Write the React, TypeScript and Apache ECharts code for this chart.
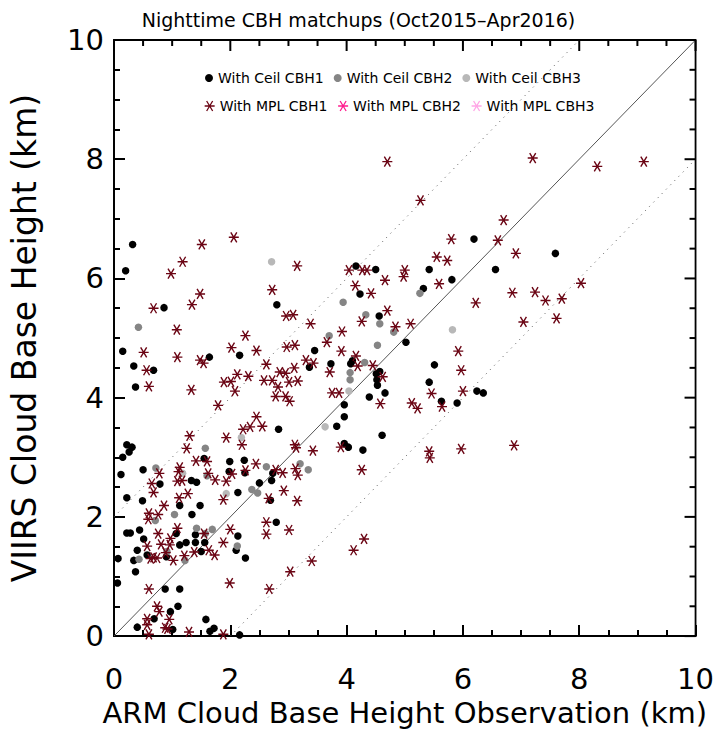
import React, { useEffect, useRef } from "react";
import * as echarts from "echarts";

// ---- data (km) ----
const ceilCBH1: number[][] = [
  [0.32, 6.57], [0.2, 6.13], [0.86, 5.51], [2.8, 5.56], [4.16, 6.21], [4.5, 6.15], [4.23, 5.74], [4.56, 5.37],
  [6.19, 6.66], [7.59, 6.42], [5.42, 6.15], [6.56, 6.15], [5.81, 5.98], [5.32, 5.83], [5.02, 4.93], [5.51, 4.55],
  [5.42, 4.26], [6.24, 4.11], [6.35, 4.08], [5.63, 3.94], [5.9, 3.91], [4.66, 4.08], [4.61, 3.37],
  [0.15, 4.78], [1.64, 4.68], [2.16, 4.71], [3.45, 4.79], [0.34, 4.53], [0.68, 4.46], [0.37, 4.18], [3.36, 4.51],
  [3.73, 4.57], [4.07, 4.57], [4.1, 4.62], [4.51, 4.4], [4.57, 4.44], [4.52, 4.3], [4.53, 4.21], [4.39, 4.01],
  [3.96, 3.88], [3.96, 3.68], [3.83, 3.52], [2.83, 3.47], [0.22, 3.21], [0.31, 3.17], [0.26, 3.09], [0.15, 3.0],
  [0.12, 2.71], [3.96, 3.23], [4.03, 3.17], [4.28, 3.12], [2.73, 2.73], [2.71, 2.61], [2.5, 2.57], [2.69, 2.28],
  [1.55, 2.98], [1.99, 2.93], [2.24, 2.95], [1.98, 2.76], [2.25, 2.74], [1.33, 2.61], [1.42, 2.58], [0.5, 2.79],
  [0.79, 2.55], [2.13, 2.41], [0.22, 2.32], [0.49, 2.27], [1.13, 2.19], [1.48, 2.19], [1.34, 2.04], [2.79, 1.91],
  [0.22, 1.73], [0.28, 1.73], [0.44, 1.78], [0.51, 1.63], [1.07, 1.72], [1.4, 1.7], [1.56, 1.57], [1.4, 1.57],
  [1.24, 1.57], [1.13, 1.53], [0.4, 1.44], [1.5, 1.42], [2.13, 1.68], [2.1, 1.44], [2.26, 1.31], [0.57, 1.36],
  [0.9, 1.33], [0.34, 1.27], [0.07, 1.3], [0.37, 1.08], [0.06, 0.89], [0.88, 0.79], [1.13, 0.79], [1.1, 0.5],
  [0.97, 0.41], [0.69, 0.29], [1.58, 0.28], [0.4, 0.15], [1.01, 0.11], [1.65, 0.08], [1.72, 0.13], [2.16, 0.02],
];

const ceilCBH2: number[][] = [
  [0.42, 5.18], [3.7, 5.04], [3.94, 5.6], [4.33, 5.39], [4.57, 5.24], [4.81, 5.1], [5.26, 5.75], [4.53, 4.88],
  [4.31, 4.59], [4.06, 4.42], [4.06, 4.3], [1.57, 3.15], [3.2, 2.89], [3.34, 2.79], [2.62, 2.84], [2.37, 2.46],
  [2.47, 2.4], [0.72, 2.82], [1.04, 2.04], [0.71, 1.94], [1.42, 1.81], [1.69, 1.79], [2.12, 1.51], [0.43, 1.29],
  [1.22, 1.27], [1.6, 2.69], [1.57, 1.72], [0.91, 1.42],
];

const ceilCBH3: number[][] = [
  [2.71, 6.28], [5.82, 5.14], [4.04, 4.11], [3.63, 3.51], [2.19, 3.33], [1.18, 2.73], [1.93, 2.39],
];

const mplCBH1: number[][] = [
  [0.68, 5.5], [0.98, 6.08], [1.18, 6.28], [1.08, 5.14], [1.34, 5.56], [1.48, 5.74], [1.51, 6.57], [2.06, 6.69],
  [2.26, 5.04], [2.72, 5.81], [3.15, 6.21], [2.96, 5.37], [3.08, 5.39], [3.38, 5.24], [3.92, 5.11], [4.04, 6.14],
  [4.27, 6.14], [4.35, 6.14], [4.15, 5.88], [4.42, 5.75], [4.66, 5.97], [4.7, 7.96], [4.26, 5.28], [4.7, 5.46],
  [4.84, 5.19],
  [7.2, 8.02], [8.31, 7.88], [9.11, 7.96], [5.27, 7.31], [6.7, 6.98], [5.8, 6.66], [6.6, 6.64], [5.55, 6.36],
  [5.73, 6.3], [6.91, 6.42], [5.0, 6.14], [4.98, 6.03], [5.59, 5.91], [6.22, 5.59], [6.85, 5.76], [7.24, 5.77],
  [7.42, 5.63], [7.7, 5.66], [8.03, 5.92], [7.04, 5.27], [7.61, 5.33], [5.1, 5.24], [5.92, 4.78], [5.97, 4.46],
  [5.46, 4.07], [6.0, 4.11], [5.64, 3.85], [5.12, 3.91], [5.22, 3.82], [4.62, 4.35],
  [5.42, 3.1], [5.43, 2.99], [5.97, 3.14], [6.88, 3.2],
  [0.51, 4.76], [1.09, 4.68], [1.48, 4.63], [1.54, 4.58], [2.02, 4.84], [2.45, 4.79], [2.97, 4.85], [3.11, 4.88],
  [3.66, 4.93], [3.91, 4.78], [0.56, 4.46], [0.6, 4.19], [1.33, 4.13], [2.62, 4.56], [2.12, 4.39], [2.31, 4.36],
  [1.89, 4.26], [2.01, 4.27], [2.08, 4.11], [2.58, 4.29], [2.72, 4.29], [2.85, 4.43], [2.95, 4.41], [2.82, 4.18],
  [3.1, 4.5], [3.3, 4.63], [3.43, 4.58], [3.71, 4.43], [3.01, 4.26], [3.16, 4.28], [2.78, 4.02], [2.95, 4.02],
  [3.02, 3.94], [3.75, 4.08], [3.87, 4.08], [4.16, 4.7], [4.19, 4.53], [4.45, 4.54], [4.58, 3.9], [1.79, 3.87],
  [2.45, 3.68], [2.34, 3.51], [2.22, 3.47], [2.55, 3.52], [1.3, 3.36], [1.93, 3.33], [2.2, 3.21], [1.25, 3.15],
  [3.11, 3.21], [3.13, 3.16], [3.42, 3.11], [3.9, 3.17], [4.26, 2.79], [3.12, 2.81], [3.16, 2.7], [2.9, 2.74],
  [2.78, 2.79], [2.92, 2.44], [2.66, 2.31], [3.15, 2.27], [1.41, 2.94], [1.6, 2.93], [2.03, 2.72], [2.26, 2.78],
  [2.44, 2.89], [1.62, 2.73], [1.74, 2.62], [1.93, 2.6], [1.13, 2.83], [0.78, 2.73], [1.11, 2.76], [1.09, 2.6],
  [1.17, 2.61], [0.65, 2.56], [0.68, 2.41], [1.27, 2.39], [1.88, 2.29], [0.86, 2.19], [1.12, 2.32], [0.76, 2.04],
  [0.6, 2.06], [0.59, 1.96], [2.62, 1.91], [2.62, 1.71], [3.01, 1.78], [0.76, 1.72], [0.97, 1.64], [1.09, 1.81],
  [1.55, 1.72], [0.81, 1.54], [0.96, 1.53], [0.57, 1.51], [0.89, 1.4], [1.38, 1.41], [1.63, 1.44], [1.73, 1.36],
  [1.88, 1.57], [2.0, 1.79], [0.63, 1.3], [0.68, 1.32], [0.74, 1.31], [1.02, 1.27], [1.21, 1.35], [0.6, 0.79],
  [1.99, 0.89], [2.67, 0.79], [3.03, 1.08], [3.4, 1.26], [4.12, 1.44], [4.3, 1.63], [0.74, 0.5], [0.78, 0.41],
  [0.57, 0.29], [0.95, 0.28], [0.57, 0.19], [0.88, 0.14], [0.92, 0.12], [1.29, 0.07], [1.88, 0.03], [0.6, 0.03],
];

const mplCBH2: number[][] = [];
const mplCBH3: number[][] = [];

// reference lines: 1:1 and +/- 2 km
const oneToOne: number[][] = [[0, 0], [10, 10]];
const upperBound: number[][] = [[0, 2], [8, 10]];
const lowerBound: number[][] = [[2, 0], [10, 8]];

// mirrored ticks on the top and right frame edges
const majorTicks: number[] = [0, 2, 4, 6, 8, 10];
const minorTicks: number[] = [0.5, 1, 1.5, 2.5, 3, 3.5, 4.5, 5, 5.5, 6.5, 7, 7.5, 8.5, 9, 9.5];

const titleText = "Nighttime CBH matchups (Oct2015\u2013Apr2016)";
const xName = "ARM Cloud Base Height Observation (km)";
const yName = "VIIRS Cloud Base Height (km)";

const FONT = '"DejaVu Sans", "Liberation Sans", sans-serif';
const ASTERISK = "path://M0,5L10,5M2,0L8,10M8,0L2,10";

const STAR1 = "#6b0514";
const STAR2 = "#ff1c8e";
const STAR3 = "#ffa6e6";

const MAJOR_LEN = 11;
const MINOR_LEN = 6;

function App() {
  const ref = useRef<HTMLDivElement>(null);

  useEffect(() => {
    if (!ref.current) return;
    const chart = echarts.init(ref.current, null, { renderer: "svg" });

    const mkAxis = (extra: any) => ({
      type: "value",
      min: 0,
      max: 10,
      interval: 2,
      axisLine: { show: true, onZero: false, lineStyle: { color: "#000", width: 1.8 } },
      axisTick: { show: true, inside: true, length: MAJOR_LEN, lineStyle: { color: "#000", width: 2 } },
      minorTick: { show: true, splitNumber: 4, length: MINOR_LEN, lineStyle: { color: "#000", width: 2 } },
      splitLine: { show: false },
      minorSplitLine: { show: false },
      ...extra,
    });

    const circleSeries = (name: string, data: number[][], color: string) => ({
      name,
      type: "scatter",
      data,
      symbol: "circle",
      symbolSize: 7.5,
      itemStyle: { color, opacity: 1 },
      z: 3,
    });
    const starSeries = (name: string, data: number[][], color: string) => ({
      name,
      type: "scatter",
      data,
      symbol: ASTERISK,
      symbolSize: 10,
      itemStyle: { color: "rgba(0,0,0,0)", borderColor: color, borderWidth: 1.4, opacity: 1 },
      z: 4,
    });
    const refLine = (data: number[][], type: any, color: string) => ({
      type: "line",
      data,
      symbol: "none",
      silent: true,
      lineStyle: { color, width: 1, type },
      z: 2,
    });

    const legendText = { fontFamily: FONT, fontSize: 14, color: "#000" };

    chart.setOption({
      animation: false,
      backgroundColor: "#fff",
      title: {
        text: titleText,
        left: "center",
        top: 5,
        textStyle: { fontFamily: FONT, fontSize: 19, fontWeight: "normal", color: "#000" },
      },
      grid: {
        left: 110,
        right: 21,
        top: 40,
        bottom: 92,
        show: true,
        borderColor: "#000",
        borderWidth: 1.8,
        backgroundColor: "rgba(0,0,0,0)",
      },
      legend: [
        {
          left: 205,
          top: 71,
          padding: 0,
          itemGap: 10,
          itemWidth: 8,
          itemHeight: 8,
          selectedMode: false,
          textStyle: legendText,
          data: [
            { name: "With Ceil CBH1", icon: "circle" },
            { name: "With Ceil CBH2", icon: "circle" },
            { name: "With Ceil CBH3", icon: "circle" },
          ],
        },
        {
          left: 204,
          top: 99,
          padding: 0,
          itemGap: 10,
          itemWidth: 10,
          itemHeight: 10,
          selectedMode: false,
          textStyle: legendText,
          data: [
            { name: "With MPL CBH1", itemStyle: { color: "rgba(0,0,0,0)", borderColor: STAR1, borderWidth: 1.3 } },
            { name: "With MPL CBH2", itemStyle: { color: "rgba(0,0,0,0)", borderColor: STAR2, borderWidth: 1.3 } },
            { name: "With MPL CBH3", itemStyle: { color: "rgba(0,0,0,0)", borderColor: STAR3, borderWidth: 1.3 } },
          ],
        },
      ],
      xAxis: mkAxis({
        position: "bottom",
        name: xName,
        nameLocation: "middle",
        nameGap: 56,
        nameTextStyle: { fontFamily: FONT, fontSize: 29, color: "#000" },
        axisLabel: { margin: 28, fontFamily: FONT, fontSize: 29, color: "#000" },
      }),
      yAxis: mkAxis({
        position: "left",
        name: yName,
        nameLocation: "middle",
        nameGap: 73,
        nameTextStyle: { fontFamily: FONT, fontSize: 33, color: "#000" },
        axisLabel: { margin: 10, fontFamily: FONT, fontSize: 29, color: "#000" },
      }),
      series: [
        refLine(oneToOne, "solid", "#555"),
        refLine(upperBound, [1, 5], "#555"),
        refLine(lowerBound, [1, 5], "#555"),
        circleSeries("With Ceil CBH1", ceilCBH1, "#000000"),
        circleSeries("With Ceil CBH2", ceilCBH2, "#858585"),
        circleSeries("With Ceil CBH3", ceilCBH3, "#b8b8b8"),
        starSeries("With MPL CBH1", mplCBH1, STAR1),
        starSeries("With MPL CBH2", mplCBH2, STAR2),
        starSeries("With MPL CBH3", mplCBH3, STAR3),
      ],
    });

    // top and right mirrored inward ticks, positioned through the grid's scales
    try {
      const toPx = (x: number, y: number) => chart.convertToPixel({ gridIndex: 0 }, [x, y]) as number[];
      const els: any[] = [];
      const style = { stroke: "#000", lineWidth: 2 };
      const add = (v: number, len: number) => {
        const t = toPx(v, 10);
        const r = toPx(10, v);
        els.push(
          { type: "line", z: 50, silent: true, shape: { x1: t[0], y1: t[1], x2: t[0], y2: t[1] + len }, style },
          { type: "line", z: 50, silent: true, shape: { x1: r[0], y1: r[1], x2: r[0] - len, y2: r[1] }, style }
        );
      };
      majorTicks.forEach((v) => add(v, MAJOR_LEN));
      minorTicks.forEach((v) => add(v, MINOR_LEN));
      chart.setOption({ graphic: els });
    } catch (e) {
      // ignore
    }

    return () => chart.dispose();
  }, []);

  return (
    <div
      ref={ref}
      style={{ position: "fixed", left: 0, top: 0, width: 717, height: 732, background: "#fff" }}
    />
  );
}

export default App;
